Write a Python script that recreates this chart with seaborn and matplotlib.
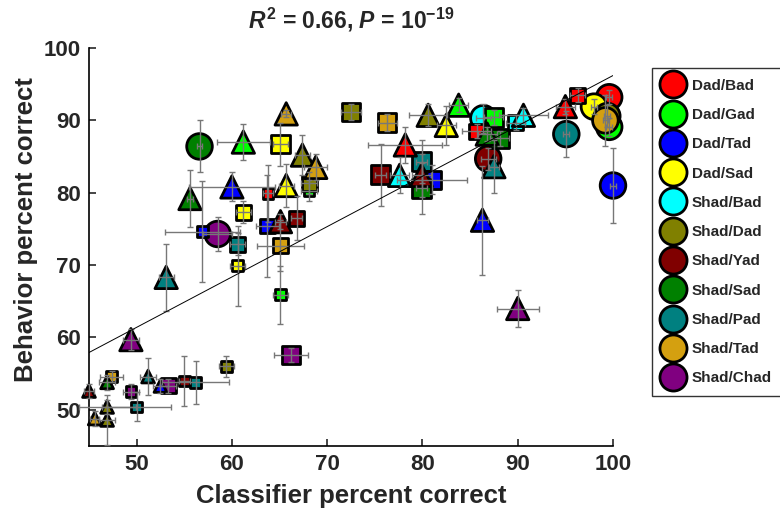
import numpy as np
import pandas as pd
import seaborn as sns
import matplotlib.pyplot as plt
from matplotlib.lines import Line2D

# ---- data ----------------------------------------------------------------
PAIRS = ["Dad/Bad", "Dad/Gad", "Dad/Tad", "Dad/Sad", "Shad/Bad", "Shad/Dad",
         "Shad/Yad", "Shad/Sad", "Shad/Pad", "Shad/Tad", "Shad/Chad"]

pair = [
    # circles
    "Dad/Tad", "Shad/Pad", "Dad/Bad", "Dad/Sad", "Dad/Gad", "Shad/Dad",
    "Shad/Tad", "Shad/Bad", "Shad/Yad", "Shad/Sad", "Shad/Chad",
    # big squares
    "Dad/Sad", "Shad/Dad", "Shad/Tad", "Shad/Yad", "Shad/Pad", "Dad/Tad",
    "Shad/Sad", "Dad/Gad", "Shad/Sad", "Shad/Chad",
    # medium / small squares
    "Shad/Bad", "Dad/Gad", "Shad/Dad", "Shad/Yad", "Dad/Sad", "Dad/Tad",
    "Shad/Pad", "Shad/Tad", "Dad/Bad", "Dad/Bad", "Shad/Chad",
    "Dad/Bad", "Dad/Tad", "Dad/Sad", "Dad/Gad", "Shad/Dad", "Shad/Tad",
    "Shad/Chad", "Shad/Yad", "Shad/Pad", "Shad/Pad",
    # triangles
    "Dad/Gad", "Shad/Tad", "Shad/Dad", "Shad/Tad", "Shad/Sad", "Dad/Tad",
    "Dad/Sad", "Shad/Yad", "Shad/Pad", "Shad/Chad", "Dad/Bad", "Shad/Dad",
    "Dad/Gad", "Dad/Sad", "Shad/Sad", "Shad/Bad", "Shad/Bad", "Shad/Yad",
    "Shad/Pad", "Dad/Bad", "Dad/Tad", "Shad/Chad",
    # small triangles
    "Shad/Yad", "Shad/Sad", "Shad/Pad", "Dad/Tad", "Shad/Dad", "Shad/Tad",
    "Shad/Dad",
]

kind = (["circle"] * 11 + ["square"] * 10
        + ["mid square", "small square", "mid square", "mid square", "mid square",
           "mid square", "mid square", "mid square", "mid square", "mid square",
           "mid square"]
        + ["small square"] * 10
        + ["triangle"] * 22 + ["small triangle"] * 7)

classifier = [
    100.0, 95.1, 99.6, 98.0, 99.6, 99.4, 99.2, 86.4, 86.9, 56.6, 58.5,
    65.1, 72.5, 76.3, 75.6, 79.9, 81.0, 79.9, 87.5, 88.1, 66.2,
    89.8, 68.1, 68.1, 66.8, 61.2, 63.7, 60.6, 65.1, 96.3, 85.7, 53.3,
    63.8, 56.9, 60.6, 65.1, 59.4, 47.4, 49.4, 55.0, 56.2, 50.0,
    61.2, 65.7, 67.4, 68.8, 55.6, 60.0, 65.7, 65.1, 53.1, 49.4, 78.2, 80.6,
    83.8, 82.5, 86.8, 90.6, 77.6, 79.9, 87.5, 95.0, 86.3, 90.0,
    45.0, 46.9, 51.2, 52.5, 46.9, 45.6, 46.9,
]

behavior = [
    81.0, 88.1, 93.2, 91.9, 89.1, 90.6, 90.0, 90.3, 84.7, 86.4, 74.3,
    86.7, 91.2, 89.7, 82.5, 84.3, 81.8, 80.6, 90.4, 87.5, 57.6,
    89.7, 80.3, 81.3, 76.5, 77.3, 75.4, 72.9, 72.7, 93.5, 88.5, 53.3,
    79.9, 74.6, 69.9, 65.9, 56.0, 54.6, 52.5, 54.0, 53.8, 50.4,
    87.0, 90.9, 85.2, 83.5, 79.2, 80.8, 81.0, 76.0, 68.3, 59.7, 86.6, 90.7,
    92.1, 89.3, 88.1, 90.7, 82.4, 82.4, 83.6, 91.9, 76.2, 64.0,
    52.6, 53.8, 54.6, 53.3, 50.4, 48.8, 48.6,
]

classifier_err = [
    0.3, 0.3, 0.3, 0.3, 0.3, 0.3, 0.3, 0.8, 0.8, 0.3, 1.5,
    0.8, 1.0, 1.0, 0.6, 0.6, 3.7, 0.6, 1.0, 1.0, 1.8,
    1.0, 0.8, 0.8, 0.6, 0.8, 1.2, 0.8, 2.5, 0.8, 1.5, 0.8,
    0.5, 3.9, 0.8, 0.8, 0.8, 1.2, 0.8, 0.6, 3.5, 3.6,
    2.8, 0.5, 0.8, 1.2, 0.3, 4.5, 0.8, 0.6, 0.8, 0.8, 3.9, 2.0,
    1.0, 1.0, 1.0, 2.6, 1.0, 1.0, 0.5, 1.0, 0.6, 2.2,
    0.5, 0.8, 0.8, 0.8, 3.0, 0.5, 0.8,
]

behavior_err = [
    5.2, 3.2, 1.0, 1.0, 1.2, 1.5, 3.5, 2.0, 1.5, 3.6, 2.3,
    3.0, 1.1, 1.2, 4.3, 3.0, 2.0, 3.5, 1.0, 1.0, 1.0,
    1.0, 1.5, 1.5, 3.0, 1.5, 7.0, 1.5, 3.5, 1.0, 1.0, 1.0,
    4.0, 7.0, 5.5, 4.0, 1.5, 0.8, 1.0, 3.5, 3.0, 2.0,
    2.5, 0.5, 2.8, 1.8, 3.9, 2.0, 3.0, 1.0, 4.6, 1.5, 2.5, 1.5,
    1.0, 2.7, 1.0, 1.0, 2.5, 3.0, 3.7, 1.0, 7.5, 2.5,
    1.0, 1.0, 2.5, 1.0, 1.0, 1.0, 3.5,
]

FIT_SLOPE = 0.696
FIT_INTERCEPT = 26.6
AXIS_RANGE = [45, 100]

# ---- styling ---------------------------------------------------------------
PAIR_COLORS = ["#ff0000", "#00ff00", "#0000ff", "#ffff00", "#00ffff", "#808000",
               "#800000", "#008000", "#008080", "#d4a010", "#800080"]
MARKERS = {"circle": "o", "square": "s", "mid square": "s", "small square": "s",
           "triangle": "^", "small triangle": "^"}
SIZES = {"circle": 340, "square": 175, "mid square": 115, "small square": 60,
         "triangle": 260, "small triangle": 85}

sns.set_theme(style="ticks")
plt.rcParams["font.family"] = ["Liberation Sans", "DejaVu Sans"]
plt.rcParams["font.weight"] = "bold"
plt.rcParams["mathtext.fontset"] = "custom"
plt.rcParams["mathtext.rm"] = "Liberation Sans:bold"
plt.rcParams["mathtext.bf"] = "Liberation Sans:bold"
plt.rcParams["mathtext.it"] = "Liberation Sans:italic:bold"

df = pd.DataFrame({"pair": pair, "kind": kind, "classifier": classifier,
                   "behavior": behavior, "classifier_err": classifier_err,
                   "behavior_err": behavior_err})

fig = plt.figure(figsize=(7.8, 5.12), dpi=100)
ax = fig.add_axes([0.1141, 0.1289, 0.6718, 0.7773])

sns.scatterplot(data=df, x="classifier", y="behavior", hue="pair", hue_order=PAIRS,
                palette=dict(zip(PAIRS, PAIR_COLORS)), style="kind", markers=MARKERS,
                size="kind", sizes=SIZES, edgecolor="black", linewidth=2,
                legend=False, clip_on=False, zorder=2, ax=ax)

ax.errorbar(df["classifier"], df["behavior"], xerr=df["classifier_err"],
            yerr=df["behavior_err"], fmt="none", ecolor="#777777", elinewidth=1,
            capsize=2.5, capthick=1, zorder=3, clip_on=False)

xs = np.array(AXIS_RANGE, dtype=float)
ax.plot(xs, FIT_INTERCEPT + FIT_SLOPE * xs, color="black", lw=0.7, zorder=4)

ax.set_xlim(AXIS_RANGE)
ax.set_ylim(AXIS_RANGE)
ax.set_xticks(range(50, 101, 10))
ax.set_yticks(range(50, 101, 10))
ax.tick_params(direction="in", length=5, width=1.2, labelsize=16, pad=6)
for lab in ax.get_xticklabels() + ax.get_yticklabels():
    lab.set_fontweight("bold")
sns.despine(ax=ax)
for sp in ("left", "bottom"):
    ax.spines[sp].set_linewidth(1.2)
    ax.spines[sp].set_color("black")

ax.set_xlabel("Classifier percent correct", fontsize=18.5, fontweight="bold", labelpad=6)
ax.set_ylabel("Behavior percent correct", fontsize=18.5, fontweight="bold")
ax.yaxis.set_label_coords(-0.097, 0.545)
ax.set_title(r"$R^2$ = 0.66, $P$ = 10$^{-19}$", fontsize=16.5, fontweight="bold", pad=14)

handles = [Line2D([], [], ls="", marker="o", markersize=19.5, markerfacecolor=c,
                  markeredgecolor="black", markeredgewidth=2) for c in PAIR_COLORS]
leg = fig.legend(handles, PAIRS, loc="upper left", bbox_to_anchor=(652 / 780, 1 - 68 / 512),
                 frameon=True, fancybox=False, edgecolor="black", fontsize=11,
                 labelspacing=1.0, handlelength=1.4, handletextpad=0.5,
                 borderpad=0.7, borderaxespad=0)
leg.get_frame().set_linewidth(1)
for t in leg.get_texts():
    t.set_fontweight("bold")

fig.savefig("out.png", dpi=100)
